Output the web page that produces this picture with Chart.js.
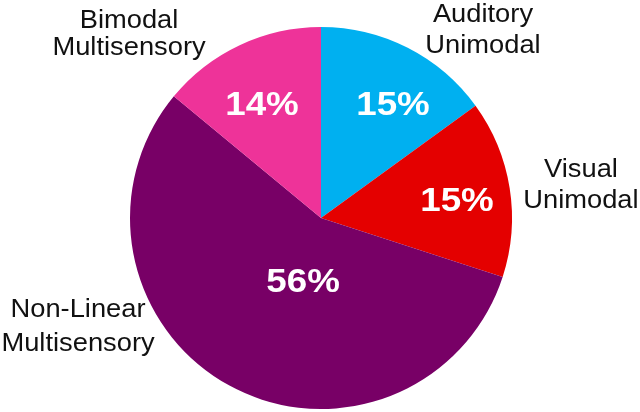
<!DOCTYPE html>
<html>
<head>
<meta charset="utf-8">
<script src="https://cdn.jsdelivr.net/npm/chart.js@4/dist/chart.umd.min.js"></script>
<style>
    body { margin: 0; background: #ffffff; }
    #wrap { width: 640px; height: 412px; position: relative; }
</style>
</head>
<body>
<div id="wrap"><canvas id="pieChart"></canvas></div>
<script>
const categories = [['Auditory', 'Unimodal'], ['Visual', 'Unimodal'], ['Non-Linear', 'Multisensory'], ['Bimodal', 'Multisensory']];
const shares = [15, 15, 56, 14];
const sliceColors = ['#00B0F0', '#E40000', '#780066', '#EE3399'];

// label placement (first baseline), in units of the pie radius from the centre
const pctSpots = [[0.377, -0.539], [0.712, -0.037], [-0.094, 0.387], [-0.309, -0.539]];
const nameSpots = [[0.848, -1.026], [1.361, -0.215], [-1.272, 0.518], [-1.005, -0.995]];
const nameGaps = [31, 31, 34, 27];

function stretchedText(ctx, text, x, y, sx) {
    ctx.save();
    ctx.translate(x, y);
    ctx.scale(sx, 1);
    ctx.fillText(text, 0, 0);
    ctx.restore();
}

const labelPlugin = {
    id: 'pieLabels',
    afterDatasetsDraw(chart) {
        const ctx = chart.ctx;
        const arcs = chart.getDatasetMeta(0).data;
        const cx = arcs[0].x, cy = arcs[0].y, r = arcs[0].outerRadius;
        ctx.save();
        ctx.textAlign = 'center';
        ctx.textBaseline = 'alphabetic';

        // percentages inside the slices
        ctx.fillStyle = '#ffffff';
        ctx.font = 'bold 34px "Liberation Sans", Arial, sans-serif';
        shares.forEach((v, i) => {
            stretchedText(ctx, v + '%', cx + pctSpots[i][0] * r, cy + pctSpots[i][1] * r, 1.08);
        });

        // category names outside
        ctx.fillStyle = '#111111';
        ctx.font = '26px "Liberation Sans", Arial, sans-serif';
        categories.forEach((lines, i) => {
            const x = cx + nameSpots[i][0] * r;
            const y = cy + nameSpots[i][1] * r;
            lines.forEach((line, j) => {
                stretchedText(ctx, line, x, y + j * nameGaps[i], 1.05);
            });
        });
        ctx.restore();
    }
};

const ctx = document.getElementById('pieChart').getContext('2d');
new Chart(ctx, {
    type: 'pie',
    data: {
        labels: categories.map(l => l.join(' ')),
        datasets: [{
            data: shares,
            backgroundColor: sliceColors,
            borderWidth: 0
        }]
    },
    options: {
        responsive: true,
        maintainAspectRatio: false,
        animation: false,
        layout: { padding: { top: 27, bottom: 3, left: 2, right: 0 } },
        plugins: {
            legend: { display: false },
            tooltip: { enabled: false }
        }
    },
    plugins: [labelPlugin]
});
</script>
</body>
</html>
